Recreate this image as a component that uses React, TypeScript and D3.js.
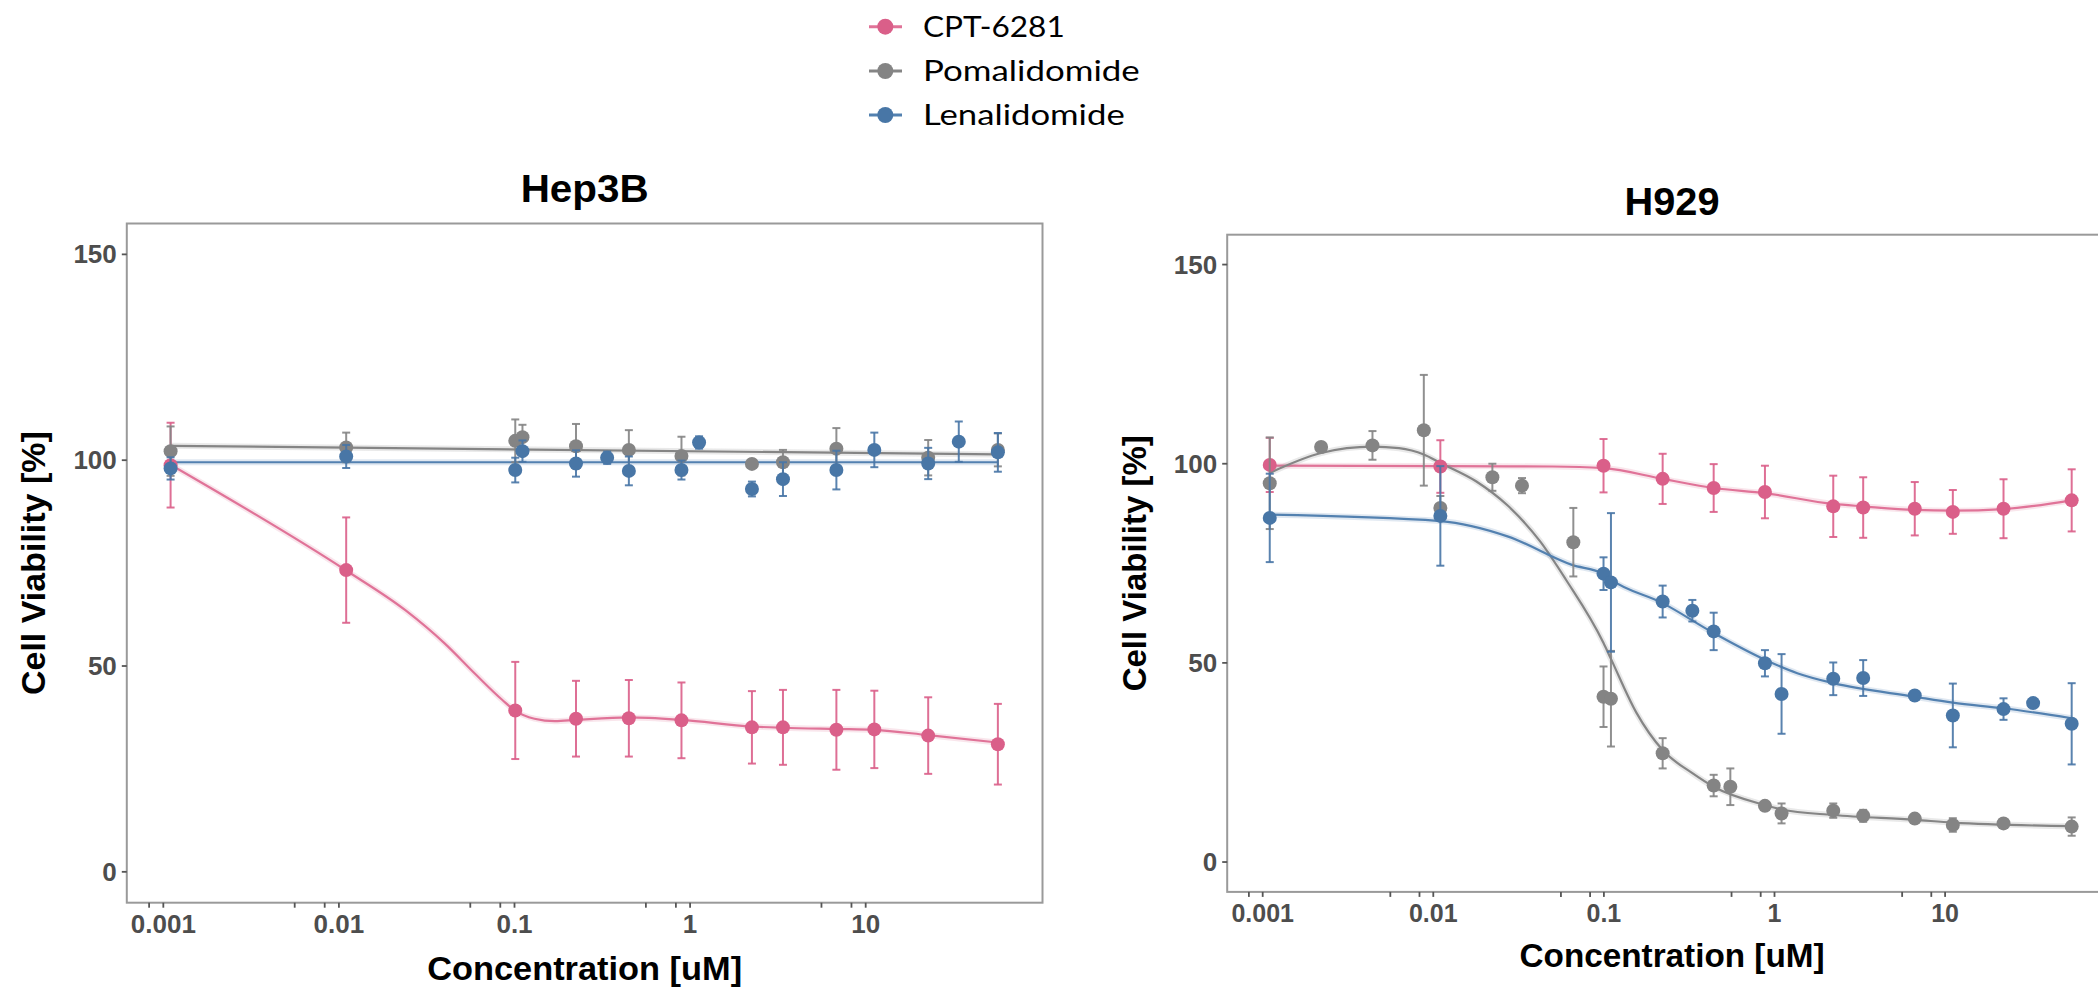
import React from 'react';
import * as d3 from 'd3';

// ---------------- data ----------------
const seriesNames = ['CPT-6281', 'Pomalidomide', 'Lenalidomide'];

const majorTicks = [0.001, 0.01, 0.1, 1, 10];
const majorTickLabels = ['0.001', '0.01', '0.1', '1', '10'];
const minorTicks = [0.00083, 0.0056, 0.0083, 0.056, 0.083, 0.56, 0.83, 5.6, 8.3];
const yTicks = [0, 50, 100, 150];
const yTickLabels = ['0', '50', '100', '150'];

// Hep3B
const hepConcCPT = [0.0011, 0.011, 0.101, 0.224, 0.448, 0.893, 2.25, 3.38, 6.81, 11.2, 22.7, 56.6];
const hepMeanCPT = [98.8, 73.3, 39.2, 37.2, 37.3, 36.8, 35.1, 35.1, 34.5, 34.6, 33.1, 31.0];
const hepErrCPT = [10.3, 12.8, 11.8, 9.2, 9.3, 9.2, 8.8, 9.1, 9.7, 9.4, 9.3, 9.8];

const hepConcPoma = [0.0011, 0.011, 0.101, 0.111, 0.224, 0.448, 0.893, 2.25, 3.38, 6.81, 22.7, 56.6];
const hepMeanPoma = [102.2, 103.1, 104.7, 105.6, 103.4, 102.5, 101.0, 99.1, 99.5, 102.8, 100.6, 102.5];
const hepErrPoma = [6.0, 3.6, 5.2, 3.0, 5.4, 4.8, 4.7, 1.0, 3.0, 5.0, 4.3, 4.0];

const hepConcLena = [0.0011, 0.011, 0.101, 0.111, 0.224, 0.337, 0.448, 0.893, 1.125, 2.25, 3.38, 6.81, 11.2, 22.7, 33.9, 56.6];
const hepMeanLena = [98.0, 100.9, 97.6, 102.2, 99.2, 100.6, 97.4, 97.6, 104.3, 93.0, 95.4, 97.6, 102.5, 99.2, 104.5, 101.9];
const hepErrLena = [2.7, 2.8, 3.0, 2.6, 3.2, 1.5, 3.5, 2.3, 1.5, 1.8, 4.1, 4.7, 4.2, 3.8, 4.9, 4.7];

const hepFitConcCPT = [0.0011, 0.011, 0.024, 0.04, 0.06, 0.085, 0.101, 0.13, 0.17, 0.224, 0.448, 0.893, 2.25, 3.38, 6.81, 11.2, 22.7, 56.6];
const hepFitCPT = [98.9, 73.2, 63.5, 55.5, 48.0, 41.8, 39.1, 37.2, 36.6, 36.9, 37.5, 36.9, 35.3, 35.0, 34.7, 34.5, 33.2, 31.4];
const hepFitConcPoma = [0.0011, 56.6];
const hepFitPoma = [103.5, 101.4];
const hepFitConcLena = [0.0011, 56.6];
const hepFitLena = [99.5, 99.5];

// H929
const h929ConcCPT = [0.0011, 0.011, 0.0995, 0.221, 0.44, 0.879, 2.21, 3.31, 6.64, 11.1, 22.0, 55.2];
const h929MeanCPT = [99.7, 99.3, 99.5, 96.2, 93.9, 92.9, 89.3, 89.0, 88.7, 87.9, 88.7, 90.8];
const h929ErrCPT = [6.8, 6.6, 6.7, 6.3, 6.0, 6.6, 7.7, 7.6, 6.7, 5.5, 7.4, 7.8];

const h929ConcPoma = [0.0011, 0.0022, 0.0044, 0.0088, 0.011, 0.0222, 0.0331, 0.0662, 0.0995, 0.110, 0.221, 0.44, 0.551, 0.879, 1.10, 2.21, 3.31, 6.64, 11.1, 22.0, 55.2];
const h929MeanPoma = [95.1, 104.2, 104.6, 108.4, 88.9, 96.6, 94.5, 80.3, 41.5, 41.0, 27.3, 19.2, 18.9, 14.1, 12.2, 12.9, 11.6, 10.9, 9.3, 9.7, 8.9];
const h929ErrPoma = [11.5, 0, 3.6, 13.9, 3.0, 3.4, 1.9, 8.6, 7.6, 12.0, 3.8, 2.7, 4.6, 1.0, 2.5, 1.8, 1.5, 1.0, 1.7, 1.0, 2.3];

const h929ConcLena = [0.0011, 0.011, 0.0995, 0.110, 0.221, 0.33, 0.44, 0.879, 1.10, 2.21, 3.31, 6.64, 11.1, 22.0, 32.8, 55.2];
const h929MeanLena = [86.4, 86.9, 72.4, 70.2, 65.4, 63.1, 57.9, 49.9, 42.2, 46.0, 46.2, 41.8, 36.8, 38.4, 39.9, 34.7];
const h929ErrLena = [11.1, 12.5, 4.1, 17.4, 4.0, 2.7, 4.7, 3.3, 10.0, 4.1, 4.5, 1.0, 8.0, 2.7, 0, 10.2];

const h929FitConcCPT = [0.0011, 0.011, 0.05, 0.0995, 0.221, 0.44, 0.879, 2.21, 3.31, 6.64, 11.1, 22.0, 55.2];
const h929FitCPT = [99.5, 99.4, 99.3, 98.9, 96.2, 93.9, 92.6, 89.9, 89.3, 88.4, 88.2, 88.6, 90.8];
const h929FitConcPoma = [0.0011, 0.0022, 0.0044, 0.0063, 0.0088, 0.011, 0.0178, 0.0273, 0.0423, 0.0597, 0.0995, 0.110, 0.155, 0.221, 0.33, 0.44, 0.879, 1.10, 2.21, 6.64, 11.1, 55.2];
const h929FitPoma = [97.7, 102.7, 104.3, 103.9, 102.3, 100.2, 95.6, 89.5, 80.5, 71.0, 55.0, 51.0, 37.5, 28.1, 22.3, 18.9, 14.3, 13.2, 11.8, 10.6, 9.9, 9.0];
const h929FitConcLena = [0.0011, 0.011, 0.0275, 0.065, 0.0995, 0.110, 0.221, 0.44, 0.879, 1.36, 2.21, 6.64, 11.1, 22.0, 55.2];
const h929FitLena = [87.2, 85.6, 81.7, 74.6, 72.3, 70.9, 65.0, 57.5, 50.8, 47.4, 44.9, 41.5, 40.0, 38.6, 36.1];

// ---------------- styles / layout ----------------
const pointColors = ['#DA5F89', '#848484', '#4876A6'];
const lineColors = ['#E07398', '#858585', '#5381B0'];
const X_DOMAIN = [Math.pow(10, -3.208), Math.pow(10, 2.007)];
const Y_DOMAIN = [-7.5, 157.5];
const FONT = '"Liberation Sans", Arial, Helvetica, sans-serif';

type Series = { conc: number[]; mean: number[]; err: number[]; fitConc: number[]; fit: number[] };

const hepSeries: Series[] = [
  { conc: hepConcCPT, mean: hepMeanCPT, err: hepErrCPT, fitConc: hepFitConcCPT, fit: hepFitCPT },
  { conc: hepConcPoma, mean: hepMeanPoma, err: hepErrPoma, fitConc: hepFitConcPoma, fit: hepFitPoma },
  { conc: hepConcLena, mean: hepMeanLena, err: hepErrLena, fitConc: hepFitConcLena, fit: hepFitLena },
];
const h929Series: Series[] = [
  { conc: h929ConcCPT, mean: h929MeanCPT, err: h929ErrCPT, fitConc: h929FitConcCPT, fit: h929FitCPT },
  { conc: h929ConcPoma, mean: h929MeanPoma, err: h929ErrPoma, fitConc: h929FitConcPoma, fit: h929FitPoma },
  { conc: h929ConcLena, mean: h929MeanLena, err: h929ErrLena, fitConc: h929FitConcLena, fit: h929FitLena },
];

const panels = [
  {
    title: 'Hep3B', series: hepSeries,
    xRange: [126.8, 1042.5], yRange: [902.7, 223.5],
    titleY: 202.3, titleSize: 39, titleLen: 128,
    xTitleY: 980, xTitleSize: 34, xTitleLen: 315,
    yTitleX: 45, yTitleSize: 34,
    xTickSize: 26, yTickSize: 26,
  },
  {
    title: 'H929', series: h929Series,
    xRange: [1227.2, 2116.9], yRange: [891.9, 234.7],
    titleY: 215, titleSize: 38, titleLen: 95,
    xTitleY: 967, xTitleSize: 33, xTitleLen: 305,
    yTitleX: 1146, yTitleSize: 33,
    xTickSize: 25, yTickSize: 26,
  },
];

function Panel({ p }: { p: any }) {
  const x = d3.scaleLog().domain(X_DOMAIN).range(p.xRange);
  const y = d3.scaleLinear().domain(Y_DOMAIN).range(p.yRange);
  const [x0, x1] = p.xRange;
  const [yb, yt] = p.yRange;
  const cx = (x0 + x1) / 2;
  const cy = (yb + yt) / 2;
  const line = d3
    .line<[number, number]>()
    .x((d) => x(d[0]))
    .y((d) => y(d[1]))
    .curve(d3.curveMonotoneX);

  return (
    <g>
      <rect x={x0} y={yt} width={x1 - x0} height={yb - yt} fill="white" stroke="#9a9a9a" strokeWidth={2} />
      <text x={cx} y={p.titleY} textAnchor="middle" fontFamily={FONT} fontWeight="bold" fontSize={p.titleSize}
        textLength={p.titleLen} lengthAdjust="spacingAndGlyphs" fill="#000">{p.title}</text>
      {yTicks.map((v, i) => (
        <g key={'yt' + i}>
          <line x1={x0 - 5} x2={x0} y1={y(v)} y2={y(v)} stroke="#555" strokeWidth={1.8} />
          <text x={x0 - 10} y={y(v) + 9} textAnchor="end" fontFamily={FONT} fontWeight="bold"
            fontSize={p.yTickSize} fill="#4d4d4d">{yTickLabels[i]}</text>
        </g>
      ))}
      {majorTicks.map((v, i) => (
        <g key={'xt' + i}>
          <line x1={x(v)} x2={x(v)} y1={yb} y2={yb + 5} stroke="#555" strokeWidth={1.8} />
          <text x={x(v)} y={yb + 30} textAnchor="middle" fontFamily={FONT} fontWeight="bold"
            fontSize={p.xTickSize} fill="#4d4d4d">{majorTickLabels[i]}</text>
        </g>
      ))}
      {minorTicks.map((v, i) => (
        <line key={'mt' + i} x1={x(v)} x2={x(v)} y1={yb} y2={yb + 5} stroke="#555" strokeWidth={1.8} />
      ))}
      <text x={cx} y={p.xTitleY} textAnchor="middle" fontFamily={FONT} fontWeight="bold" fontSize={p.xTitleSize}
        textLength={p.xTitleLen} lengthAdjust="spacingAndGlyphs" fill="#000">Concentration [uM]</text>
      <text transform={`translate(${p.yTitleX},${cy}) rotate(-90)`} textAnchor="middle" fontFamily={FONT}
        fontWeight="bold" fontSize={p.yTitleSize} fill="#000">Cell Viability [%]</text>
      {p.series.map((s: Series, si: number) => {
        const pts = s.fitConc.map((c, k) => [c, s.fit[k]] as [number, number]);
        const d = line(pts) || '';
        return (
          <g key={'fit' + si}>
            <path d={d} fill="none" stroke={lineColors[si]} strokeOpacity={0.18} strokeWidth={6} />
            <path d={d} fill="none" stroke={lineColors[si]} strokeWidth={2.2} />
          </g>
        );
      })}
      {p.series.map((s: Series, si: number) => (
        <g key={'pts' + si}>
          {s.conc.map((c, k) =>
            s.err[k] > 0 ? (
              <g key={'e' + k} stroke={pointColors[si]} strokeWidth={2} strokeOpacity={0.9}>
                <line x1={x(c)} x2={x(c)} y1={y(s.mean[k] - s.err[k])} y2={y(s.mean[k] + s.err[k])} />
                <line x1={x(c) - 4} x2={x(c) + 4} y1={y(s.mean[k] - s.err[k])} y2={y(s.mean[k] - s.err[k])} />
                <line x1={x(c) - 4} x2={x(c) + 4} y1={y(s.mean[k] + s.err[k])} y2={y(s.mean[k] + s.err[k])} />
              </g>
            ) : null
          )}
          {s.conc.map((c, k) => (
            <circle key={'p' + k} cx={x(c)} cy={y(s.mean[k])} r={7} fill={pointColors[si]} />
          ))}
        </g>
      ))}
    </g>
  );
}

function Legend() {
  const ys = [26.7, 71, 115];
  const lens = [141.7, 216.7, 201.7];
  return (
    <g>
      {seriesNames.map((n, i) => (
        <g key={n}>
          <line x1={869} x2={902} y1={ys[i]} y2={ys[i]} stroke={lineColors[i]} strokeWidth={3} />
          <circle cx={885.3} cy={ys[i]} r={8} fill={pointColors[i]} />
          <text x={923} y={ys[i] + 10} fontFamily='Lato, "Open Sans", sans-serif' fontSize={29}
            textLength={lens[i]} lengthAdjust="spacingAndGlyphs" fill="#000">{n}</text>
        </g>
      ))}
    </g>
  );
}

export default function App() {
  return (
    <svg width={2098} height={988} style={{ position: 'absolute', left: 0, top: 0, background: '#fff' }}>
      <rect x={0} y={0} width={2098} height={988} fill="#fff" />
      <Legend />
      {panels.map((p) => (
        <Panel key={p.title} p={p} />
      ))}
    </svg>
  );
}
